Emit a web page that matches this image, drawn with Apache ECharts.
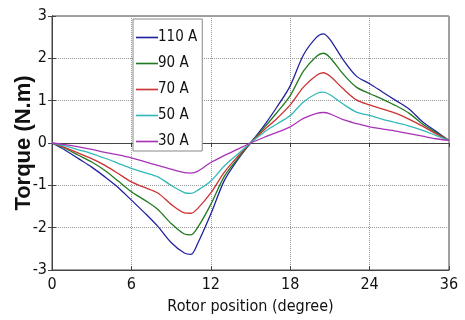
<!DOCTYPE html>
<html>
<head>
<meta charset="utf-8">
<script src="https://cdn.jsdelivr.net/npm/echarts@6/dist/echarts.min.js"></script>
<style>html,body{margin:0;padding:0;background:#fff;}#c{width:465px;height:320px;}</style>
</head>
<body>
<div id="c"></div>
<script>
// Rotor position (degree)
var positions = [0,1,2,3,4,5,6,7,8,9,10,10.5,11,12,13,14,15,16,17,18,19,20,20.5,21,22,23,24,25,26,27,28,29,30];
var seriesNames = ['110 A','90 A','70 A','50 A','30 A'];
var torque110 = [0,-0.17,-0.37,-0.57,-0.8,-1.05,-1.35,-1.65,-1.97,-2.35,-2.6,-2.63,-2.38,-1.68,-0.9,-0.41,0,0.4,0.85,1.35,2.08,2.5,2.58,2.45,1.97,1.58,1.40,1.2,1.0,0.8,0.5,0.28,0.06];
var torque90  = [0,-0.13,-0.29,-0.45,-0.65,-0.9,-1.15,-1.35,-1.57,-1.9,-2.15,-2.17,-2.0,-1.45,-0.8,-0.38,0,0.35,0.72,1.12,1.7,2.05,2.12,2.02,1.63,1.32,1.17,1.03,0.88,0.7,0.45,0.25,0.06];
var torque70  = [0,-0.11,-0.24,-0.37,-0.53,-0.72,-0.92,-1.05,-1.18,-1.45,-1.65,-1.66,-1.55,-1.18,-0.7,-0.33,0,0.3,0.58,0.9,1.32,1.6,1.66,1.58,1.28,1.02,0.9,0.8,0.7,0.56,0.4,0.22,0.06];
var torque50  = [0,-0.07,-0.16,-0.25,-0.36,-0.48,-0.6,-0.7,-0.8,-1.0,-1.17,-1.19,-1.12,-0.9,-0.55,-0.27,0,0.25,0.45,0.65,0.97,1.17,1.2,1.14,0.92,0.73,0.65,0.56,0.48,0.4,0.3,0.18,0.06];
var torque30  = [0,-0.04,-0.09,-0.15,-0.22,-0.28,-0.35,-0.44,-0.53,-0.62,-0.7,-0.71,-0.67,-0.46,-0.3,-0.15,0,0.13,0.25,0.38,0.58,0.7,0.72,0.69,0.55,0.46,0.38,0.33,0.28,0.22,0.16,0.1,0.06];
var xTickLabels = ['0','6','12','18','24','36'];
var yTickLabels = ['-3','-2','-1','0','1','2','3'];
var colors = ['#2222a0','#227a22','#cc3333','#33b8b8','#a833b8'];

var allSeries = [torque110, torque90, torque70, torque50, torque30];
function pairs(arr){ return positions.map(function(p,i){ return [p, arr[i]]; }); }

var chart = echarts.init(document.getElementById('c'));
var narrow = '"DejaVu Sans Condensed", "Liberation Sans", Arial, sans-serif';
var wide = '"Liberation Sans", Arial, sans-serif';
chart.setOption({
  animation: false,
  backgroundColor: '#fff',
  grid: {left: 52, right: 16, top: 16, bottom: 50, outerBoundsMode: 'none', containLabel: false,
         show: true, borderColor: '#444', borderWidth: 1},
  legend: {
    orient: 'vertical', left: 133, top: 19,
    data: seriesNames.map(function(n){ return {name: n, icon: 'path://M0,0H40V3H0Z'}; }),
    backgroundColor: '#fff', borderColor: '#888', borderWidth: 1,
    padding: [11, 5, 2, 3], itemGap: 11, itemWidth: 22, itemHeight: 14,
    textStyle: {fontFamily: narrow, fontSize: 15, lineHeight: 14, color: '#111', padding: [0,0,0,-5]}
  },
  xAxis: [{
    type: 'value', min: 0, max: 30, interval: 6,
    name: 'Rotor position (degree)', nameLocation: 'middle', nameGap: 29,
    nameTextStyle: {fontFamily: narrow, fontSize: 16, color: '#111'},
    axisLine: {show: true, onZero: false, lineStyle: {color: '#444'}},
    axisTick: {show: true, inside: true, length: 4, lineStyle: {color: '#444'}},
    axisLabel: {fontFamily: narrow, fontSize: 16, color: '#111', margin: 7,
      formatter: function(v){ return xTickLabels[Math.round(v/6)]; }},
    splitLine: {show: true, lineStyle: {type: 'dotted', color: '#999'}}
  },{
    type: 'value', position: 'top', min: 0, max: 30, interval: 6,
    axisLine: {show: true, lineStyle: {color: '#444'}},
    axisTick: {show: true, inside: true, length: 4, lineStyle: {color: '#444'}},
    axisLabel: {show: false}, splitLine: {show: false}
  }],
  yAxis: [{
    type: 'value', min: -3, max: 3, interval: 1,
    name: 'Torque (N.m)', nameLocation: 'middle', nameGap: 17, nameMoveOverlap: false,
    nameTextStyle: {fontFamily: wide, fontSize: 22, fontWeight: 'bold', color: '#111'},
    axisLine: {show: true, onZero: false, lineStyle: {color: '#444'}},
    axisTick: {show: true, inside: true, length: 4, lineStyle: {color: '#444'}},
    axisLabel: {fontFamily: narrow, fontSize: 16, color: '#111', margin: 5,
      formatter: function(v){ return yTickLabels[Math.round(v+3)]; }},
    splitLine: {show: true, lineStyle: {type: 'dotted', color: '#999'}}
  },{
    type: 'value', position: 'right', min: -3, max: 3, interval: 1,
    axisLine: {show: true, lineStyle: {color: '#444'}},
    axisTick: {show: true, inside: true, length: 4, lineStyle: {color: '#444'}},
    axisLabel: {show: false}, splitLine: {show: false}
  }],
  series: allSeries.map(function(arr, i){
    return {
      name: seriesNames[i], type: 'line', data: pairs(arr),
      smooth: 0.3, symbol: 'none', color: colors[i],
      lineStyle: {width: 1.3, color: colors[i]}
    };
  })
});
</script>
</body>
</html>
